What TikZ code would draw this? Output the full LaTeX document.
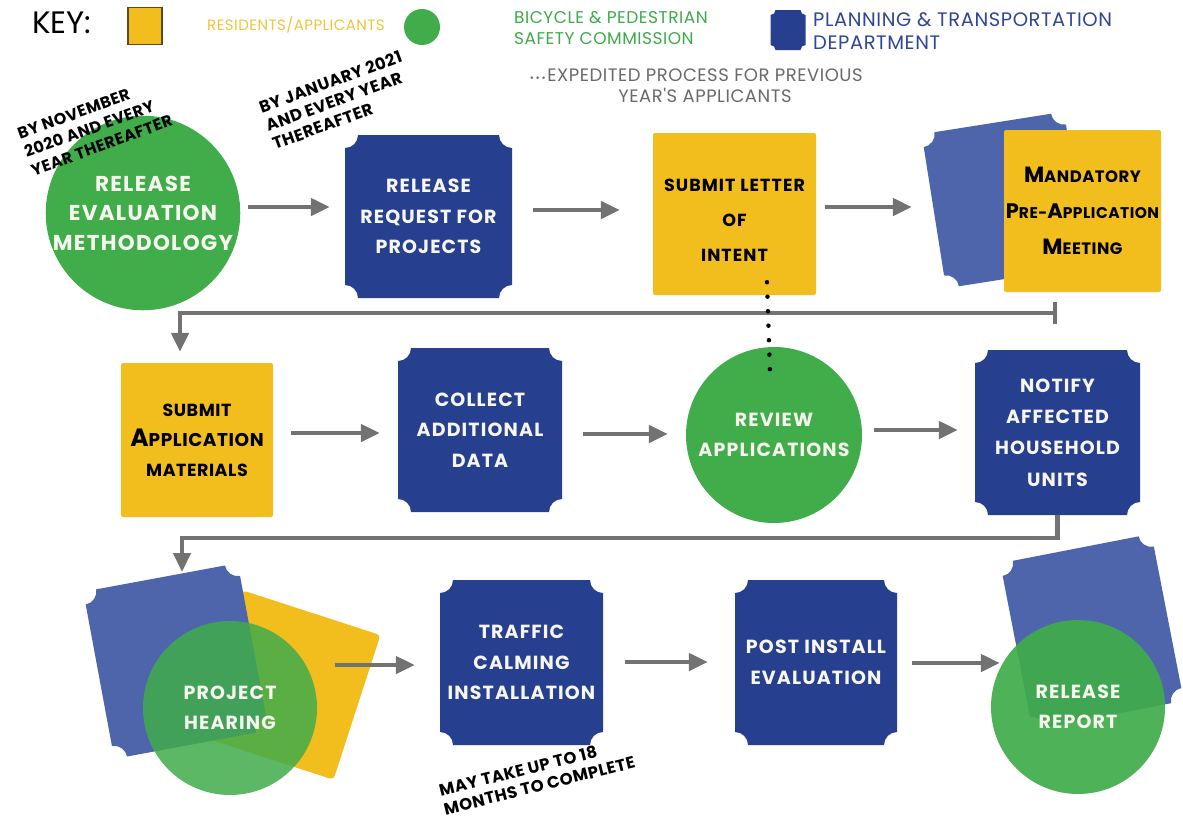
\documentclass[tikz,border=0pt]{standalone}
\usepackage{fontspec}
\setmainfont{Poppins}
\newfontfamily\popsp{Poppins}[LetterSpace=6]
\newfontfamily\popk{Poppins}[LetterSpace=3]
\usetikzlibrary{arrows.meta}
\definecolor{ylw}{HTML}{F2BE1E}
\definecolor{grn}{HTML}{40AC4A}
\definecolor{dblu}{HTML}{263F8F}
\definecolor{lblu}{HTML}{4E65AC}
\definecolor{gry}{HTML}{727272}
\definecolor{gry2}{HTML}{6A6A6A}
\definecolor{ktyl}{HTML}{EEC53E}
\definecolor{ktgr}{HTML}{3FAA4B}
\definecolor{ktbl}{HTML}{30469A}
\definecolor{offw}{HTML}{F6F6EF}
\definecolor{kbord}{HTML}{5A4A22}
% ticket shape: x, y, half width, half height, notch radius, angle, colour
\newcommand\tkt[7]{%
  \begin{scope}[shift={(#1,#2)},rotate=#6,y=1pt]
    \fill[#7] (-#3+#5,#4) -- (#3-#5,#4)
      arc[start angle=180,end angle=270,radius=#5 pt] -- (#3,-#4+#5)
      arc[start angle=90,end angle=180,radius=#5 pt] -- (-#3+#5,-#4)
      arc[start angle=0,end angle=90,radius=#5 pt] -- (-#3,#4-#5)
      arc[start angle=270,end angle=360,radius=#5 pt] -- cycle;
  \end{scope}}
\newcommand\fsc[4]{{\fontsize{#3}{#3}\selectfont #1}{\fontsize{#4}{#4}\selectfont #2}}
\tikzset{
  wtxt/.style={text=offw, align=center, inner sep=0pt,
    font=\popsp\bfseries\fontsize{19}{30.5}\selectfont},
  circ/.style={circle, fill=grn, wtxt},
  ybox/.style={fill=ylw, rounded corners=2pt, align=center, text=black, inner sep=0pt},
  arr/.style={draw=gry, line width=4.5pt, -{Triangle[length=19pt,width=17pt]}},
  note/.style={align=left, inner sep=0pt, text=black,
    font=\popk\bfseries\fontsize{16}{19.5}\selectfont},
  dotln/.style={line width=4.5pt, line cap=round, dash pattern=on 0pt off 14.5pt},
}
\begin{document}
\begin{tikzpicture}[x=1pt,y=-1pt]
\fill[white] (0,0) rectangle (1183,819);
% ---------------- key
\node[font=\fontsize{31}{31}\selectfont, anchor=west, inner sep=0pt] (key) at (32,23) {KEY:};
\node[draw=kbord, line width=1.2pt, fill=ylw, minimum width=34pt, minimum height=37pt, inner sep=0pt] (kyel) at (145,26) {};
\node[anchor=west, text=ktyl, font=\popk\fontsize{15}{15}\selectfont, inner sep=0pt] (kres) at (207,25) {RESIDENTS/APPLICANTS};
\node[circle, fill=grn, minimum size=36pt, inner sep=0pt] (kgrn) at (422,27) {};
\node[anchor=west, text=ktgr, align=left, font=\popk\fontsize{17}{20.5}\selectfont, inner sep=0pt] (kbps) at (514,28) {BICYCLE \& PEDESTRIAN\\SAFETY COMMISSION};
\tkt{788}{30}{17.5}{20}{5}{0}{dblu}
\node[minimum width=35pt, minimum height=40pt, inner sep=0pt] (kblu) at (788,30) {};
\node[anchor=west, text=ktbl, align=left, font=\popk\fontsize{19.5}{23}\selectfont, inner sep=0pt] (kptd) at (813,31) {PLANNING \& TRANSPORTATION\\DEPARTMENT};
\node[text=gry2, align=center, font=\popk\fontsize{18}{21}\selectfont, inner sep=0pt] (kexp) at (705,86) {\llap{\textcolor{gry2}{\fontsize{10}{10}\selectfont •\,•\,•\,}}EXPEDITED PROCESS FOR PREVIOUS\\YEAR'S APPLICANTS};
% ---------------- row 1
\node[circ, minimum size=192pt, font=\popsp\bfseries\fontsize{21.5}{29.5}\selectfont] (rem) at (143,213) {RELEASE\\EVALUATION\\METHODOLOGY};
\node[note, rotate=20] (n1) at (95,127) {BY NOVEMBER\\2020 AND EVERY\\YEAR THEREAFTER};
\tkt{428.5}{216.5}{83.5}{81.5}{13}{0}{dblu}
\node[wtxt, minimum width=167pt, minimum height=163pt] (rrp) at (428.5,216.5) {RELEASE\\REQUEST FOR\\PROJECTS};
\node[note, rotate=20, font=\popk\bfseries\fontsize{16.5}{19.5}\selectfont] (n2) at (337,100) {BY JANUARY 2021\\AND EVERY YEAR\\THEREAFTER};
\node[ybox, minimum width=163pt, minimum height=162pt] (loi) at (734.5,214) {};
\node[align=center, inner sep=0pt, text=black, font=\popsp\bfseries\fontsize{17.5}{35}\selectfont] (loit) at ([yshift=-6pt]loi.center) {SUBMIT LETTER\\OF\\INTENT};
\tkt{1005}{200}{72}{78}{13}{9}{lblu}
\node[ybox, minimum width=157pt, minimum height=162pt, font=\popk\bfseries\fontsize{17}{36}\selectfont] (mand) at (1082.5,211) {\fsc{M}{ANDATORY}{22}{16.5}\\\fsc{P}{RE-}{21}{15.5}\fsc{A}{PPLICATION}{21}{15.5}\\\fsc{M}{EETING}{22}{16.5}};
% ---------------- row 2
\node[ybox, minimum width=152pt, minimum height=154pt, font=\popk\bfseries\fontsize{17.5}{30}\selectfont] (sam) at (197,440) {SUBMIT\\\fsc{A}{PPLICATION}{25}{18.5}\\MATERIALS};
\tkt{480}{430}{82}{82}{13}{0}{dblu}
\node[wtxt, minimum width=164pt, minimum height=164pt] (cad) at (480,430) {COLLECT\\ADDITIONAL\\DATA};
\node[circ, minimum size=176pt] (rev) at (774,435) {REVIEW\\APPLICATIONS};
\tkt{1057.5}{432.5}{82.5}{82.5}{13}{0}{dblu}
\node[wtxt, minimum width=165pt, minimum height=165pt, font=\popsp\bfseries\fontsize{19}{31.3}\selectfont] (naf) at (1057.5,432.5) {NOTIFY\\AFFECTED\\HOUSEHOLD\\UNITS};
% ---------------- row 3
\node[fill=ylw, rounded corners=4pt, minimum width=145pt, minimum height=152pt, rotate=-18, inner sep=0pt] (hy) at (288,685) {};
\tkt{176}{661}{78.5}{85}{13}{10.5}{lblu}
\node[circ, fill opacity=0.85, text opacity=1, minimum size=174pt] (hear) at (230,708) {PROJECT\\HEARING};
\tkt{521.5}{662.5}{81.5}{82.5}{13}{0}{dblu}
\node[wtxt, minimum width=163pt, minimum height=165pt] (tci) at (521.5,662.5) {TRAFFIC\\CALMING\\INSTALLATION};
\node[note, rotate=14, font=\popk\bfseries\fontsize{16.5}{19.5}\selectfont] (n3) at (537,776) {MAY TAKE UP TO 18\\MONTHS TO COMPLETE};
\tkt{816}{662.5}{81}{82.5}{13}{0}{dblu}
\node[wtxt, minimum width=162pt, minimum height=165pt] (pie) at (816,662.5) {POST INSTALL\\EVALUATION};
\tkt{1092}{632}{77}{85}{13}{11}{lblu}
\node[circ, fill opacity=0.92, text opacity=1, minimum size=174pt] (rep) at (1078,707) {RELEASE\\REPORT};
% ---------------- connectors
\draw[arr, shorten <=8pt, shorten >=15pt] (rem.east |- 0,207) -- (rrp.west |- 0,207);
\draw[arr, shorten <=21pt, shorten >=33pt] (rrp.east |- 0,210) -- (loi.west |- 0,210);
\draw[arr, shorten <=9pt, shorten >=92pt] (loi.east |- 0,207) -- (mand.west |- 0,207);
\draw[arr, shorten <=18pt, shorten >=18pt] (sam.east |- 0,433) -- (cad.west |- 0,433);
\draw[arr, shorten <=21pt, shorten >=18pt] (cad.east |- 0,434) -- (rev.west |- 0,434);
\draw[arr, shorten <=12pt, shorten >=17pt] (rev.east |- 0,430) -- (naf.west |- 0,430);
\draw[arr, shorten <=18pt, shorten >=25pt] (hear.east |- 0,665) -- (tci.west |- 0,665);
\draw[arr, shorten <=22pt, shorten >=27pt] (tci.east |- 0,662) -- (pie.west |- 0,662);
\draw[arr, shorten <=15pt, shorten >=-9pt] (pie.east |- 0,663) -- (rep.west |- 0,663);
\coordinate (mbar) at (1057,313);
\draw[arr, {Bar[width=22pt]}-{Triangle[length=19pt,width=17pt]}, shorten >=11pt] (mbar) -| ([xshift=-17pt]sam.north);
\coordinate (hin) at (182,583);
\draw[arr, shorten >=11pt] (naf.south) -- (naf.south |- 0,538) -| (hin);
\draw[dotln] ([xshift=32.5pt,yshift=13pt]loi.south) -- ([xshift=-4pt,yshift=-25pt]rev.north);
\end{tikzpicture}
\end{document}
